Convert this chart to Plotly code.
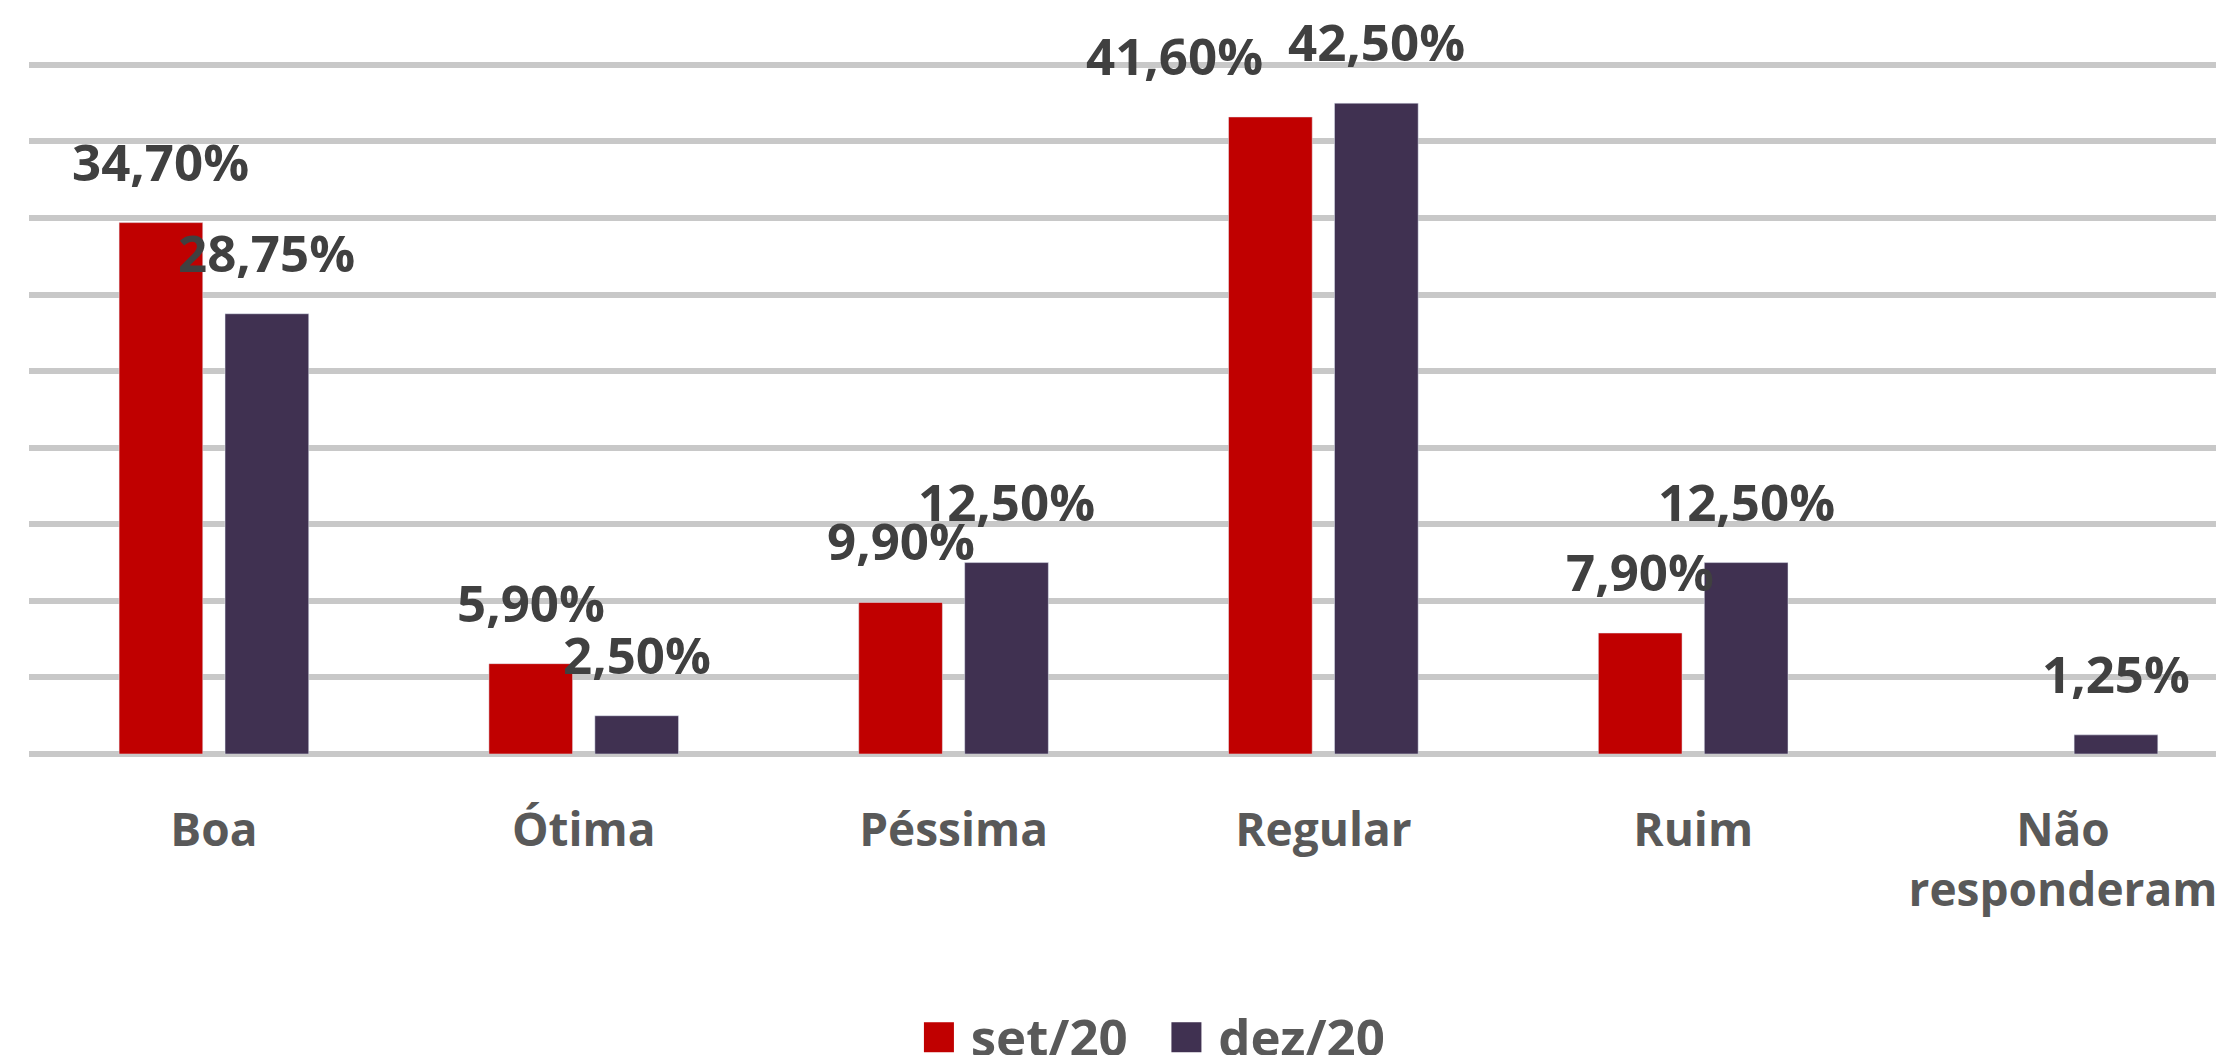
import plotly.graph_objects as go

categories = ["Boa", "Ótima", "Péssima", "Regular", "Ruim", "Não<br>responderam"]
set20 = [34.70, 5.90, 9.90, 41.60, 7.90, None]
dez20 = [28.75, 2.50, 12.50, 42.50, 12.50, 1.25]
set_labels = ["34,70%", "5,90%", "9,90%", "41,60%", "7,90%", ""]
dez_labels = ["28,75%", "2,50%", "12,50%", "42,50%", "12,50%", "1,25%"]

red = "#C00000"
purple = "#403151"
font = "Open Sans"

fig = go.Figure()
fig.add_trace(go.Bar(x=categories, y=set20, name="set/20", marker_color=red, showlegend=False))
fig.add_trace(go.Bar(x=categories, y=dez20, name="dez/20", marker_color=purple, showlegend=False))

# data labels sit a bit above each bar, like the Excel original
for i, cat in enumerate(categories):
    if set20[i] is not None:
        shift = -149 if cat == "Regular" else -53
        fig.add_annotation(x=cat, y=set20[i], text=set_labels[i], showarrow=False,
                           xshift=shift, yshift=62,
                           font=dict(family=font, size=51, color="#404040", weight="bold"))
    fig.add_annotation(x=cat, y=dez20[i], text=dez_labels[i], showarrow=False,
                       xshift=53, yshift=62,
                       font=dict(family=font, size=51, color="#404040", weight="bold"))

# legend drawn as text so the colour squares can be as big as in the original
fig.add_annotation(
    xref="paper", yref="paper", x=0.51, y=-0.40, yanchor="middle", showarrow=False,
    text=f"<span style='color:{red};font-size:62px'>■</span> set/20   "
         f"<span style='color:{purple};font-size:62px'>■</span> dez/20",
    font=dict(family=font, size=51, color="#595959", weight="bold"),
)

fig.update_layout(
    width=2224, height=1055,
    margin=dict(l=21, r=0, t=50, b=309),
    plot_bgcolor="white", paper_bgcolor="white",
    barmode="group", bargap=0.427, bargroupgap=0.21,
    xaxis=dict(range=[-0.5, 5.457], showgrid=False, ticks="", ticklabelstandoff=45,
               automargin=False,
               tickfont=dict(family=font, size=46, color="#595959", weight="bold")),
    yaxis=dict(range=[0, 45.45], dtick=5, showticklabels=False, showgrid=True,
               automargin=False,
               gridcolor="#c8c8c8", gridwidth=6, zeroline=True,
               zerolinecolor="#c8c8c8", zerolinewidth=6),
)

fig.write_html("out.html")
